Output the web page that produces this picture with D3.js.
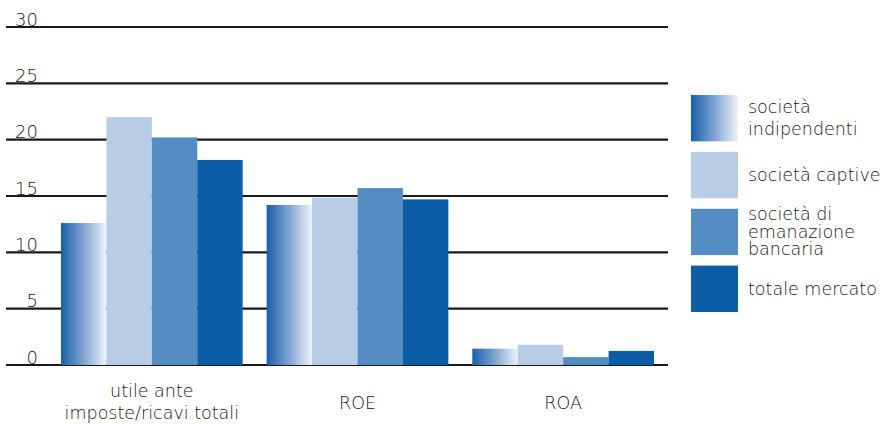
<!DOCTYPE html>
<html>
<head>
<meta charset="utf-8">
<script src="https://cdn.jsdelivr.net/npm/d3@7"></script>
<style>
  html, body { margin: 0; padding: 0; background: #fff; }
  svg { display: block; }
  text { font-family: "DejaVu Sans", "Open Sans", sans-serif; font-weight: 200; fill: #151515; }
</style>
</head>
<body>
<svg id="chart" width="884" height="426"></svg>
<script>
// Categories on the x axis (labels may span several lines)
const categories = ["utile ante imposte/ricavi totali", "ROE", "ROA"];
const categoryLines = [["utile ante", "imposte/ricavi totali"], ["ROE"], ["ROA"]];

// Series
const seriesNames = ["società indipendenti", "società captive", "società di emanazione bancaria", "totale mercato"];
const seriesLines = [["società", "indipendenti"], ["società captive"], ["società di", "emanazione", "bancaria"], ["totale mercato"]];

// Values per series, in category order
const indipendenti = [12.6, 14.2, 1.45];
const captive      = [22.0, 14.85, 1.8];
const bancaria     = [20.2, 15.7, 0.7];
const totale       = [18.2, 14.7, 1.25];

const yTicks = [0, 5, 10, 15, 20, 25, 30];

const seriesValues = [indipendenti, captive, bancaria, totale];
const fills = ["url(#gradIndip)", "#b7cde5", "#548dc3", "#0b5da8"];

const svg = d3.select("#chart");

// gradient used by "società indipendenti"
const defs = svg.append("defs");
const grad = defs.append("linearGradient").attr("id", "gradIndip")
  .attr("x1", "0%").attr("x2", "100%").attr("y1", "0%").attr("y2", "0%");
grad.append("stop").attr("offset", "0%").attr("stop-color", "#1860ab");
grad.append("stop").attr("offset", "50%").attr("stop-color", "#7fa5d0");
grad.append("stop").attr("offset", "100%").attr("stop-color", "#eef3f9");

const y = d3.scaleLinear().domain([0, 30]).range([365, 27]);
const x0 = d3.scaleBand().domain(categories).range([49, 666]).paddingInner(0.1165).paddingOuter(0.0583);
const x1 = d3.scaleBand().domain(seriesNames).range([0, x0.bandwidth()]);

// gridlines
const grid = svg.append("g");
grid.selectAll("line").data(yTicks).join("line")
  .attr("x1", 6).attr("x2", 668)
  .attr("y1", d => y(d)).attr("y2", d => y(d))
  .attr("stroke", "#1a1a1a").attr("stroke-width", 2.2);

// y tick labels
svg.append("g").selectAll("text").data(yTicks).join("text")
  .attr("x", 38).attr("y", d => y(d) - 1.5)
  .attr("text-anchor", "end")
  .style("font-size", "18px")
  .text(d => d);

// bars
const groups = svg.append("g").selectAll("g").data(categories).join("g")
  .attr("transform", d => `translate(${x0(d)},0)`);
groups.selectAll("rect")
  .data((c, ci) => seriesNames.map((s, si) => ({ s, si, v: seriesValues[si][ci] })))
  .join("rect")
  .attr("x", d => x1(d.s))
  .attr("width", x1.bandwidth())
  .attr("y", d => y(d.v))
  .attr("height", d => y(0) - y(d.v))
  .attr("fill", d => fills[d.si]);

// category labels
svg.append("g").selectAll("text").data(categories).join("text")
  .attr("x", d => x0(d) + x0.bandwidth() / 2)
  .attr("y", (d, i) => categoryLines[i].length > 1 ? 397 : 409)
  .attr("text-anchor", "middle")
  .style("font-size", "17.5px")
  .each(function(d, i) {
    const t = d3.select(this);
    categoryLines[i].forEach((ln, k) => {
      t.append("tspan").attr("x", x0(d) + x0.bandwidth() / 2).attr("dy", k === 0 ? 0 : 22).text(ln);
    });
  });

// legend
const leg = svg.append("g");
const legY = d3.scaleBand().domain(seriesNames).range([95, 312]).paddingInner(0.184);
const lineGap = [21.5, 0, 17.5, 0];
const legItems = leg.selectAll("g").data(seriesNames).join("g")
  .attr("transform", d => `translate(691,${legY(d)})`);
legItems.append("rect")
  .attr("width", 47).attr("height", legY.bandwidth())
  .attr("fill", (d, i) => fills[i]);
legItems.append("text")
  .style("font-size", "17.5px")
  .each(function(d, i) {
    const lines = seriesLines[i];
    const t = d3.select(this);
    const h = legY.bandwidth();
    const first = h / 2 + 6 - (lines.length - 1) * lineGap[i] / 2;
    lines.forEach((ln, k) => {
      t.append("tspan").attr("x", 57).attr("y", first + k * lineGap[i]).text(ln);
    });
  });
</script>
</body>
</html>
